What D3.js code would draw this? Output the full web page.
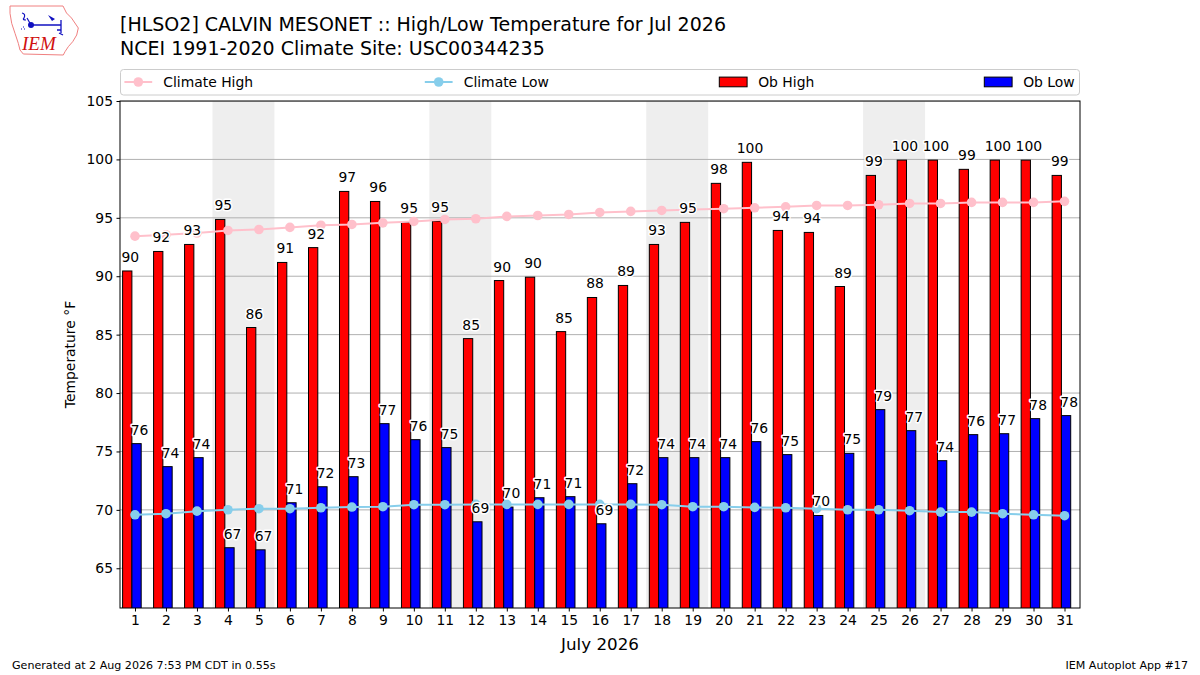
<!DOCTYPE html>
<html><head><meta charset="utf-8">
<script src="https://cdn.jsdelivr.net/npm/d3@7/dist/d3.min.js"></script>
<style>
html,body{margin:0;padding:0;background:#fff;}
svg{display:block;font-family:"DejaVu Sans",sans-serif;}
</style></head>
<body>
<svg id="c" width="1200" height="675"></svg>
<script>
// ---------------- data ----------------
const days = [1,2,3,4,5,6,7,8,9,10,11,12,13,14,15,16,17,18,19,20,21,22,23,24,25,26,27,28,29,30,31];
const obHigh = [90.45,92.12,92.72,94.86,85.61,91.18,92.45,97.26,96.4,94.61,94.72,84.66,
  89.63,89.92,85.26,88.18,89.21,92.72,94.61,97.95,99.75,93.92,93.75,89.12,98.63,99.94,99.94,99.15,99.94,99.94,98.63];
const obLow = [75.67,73.7,74.47,66.76,66.58,70.61,71.98,72.84,77.38,76.01,75.33,68.98,
  70.24,71.04,71.13,68.81,72.24,74.47,74.47,74.47,75.84,74.73,69.52,74.84,78.58,76.78,74.21,76.44,76.52,77.81,78.07];
const climHigh = [93.43,93.55,93.7,93.92,94.0,94.18,94.37,94.43,94.57,94.69,94.86,94.92,
  95.12,95.2,95.29,95.46,95.55,95.63,95.72,95.78,95.86,95.94,96.06,96.06,96.12,96.23,96.23,96.32,96.32,96.32,96.41];
const climLow = [69.58,69.67,69.89,70.01,70.1,70.1,70.18,70.24,70.27,70.44,70.44,70.47,
  70.47,70.47,70.47,70.47,70.47,70.44,70.27,70.27,70.21,70.18,70.1,70.01,70.01,69.93,69.81,69.81,69.67,69.58,69.5];
const weekendStarts = [4, 11, 18, 25];
const yTicks = [65,70,75,80,85,90,95,100,105];
const xTicks = days;
const titleLines = ["[HLSO2] CALVIN MESONET :: High/Low Temperature for Jul 2026",
                    "NCEI 1991-2020 Climate Site: USC00344235"];
const legendLabels = ["Climate High","Climate Low","Ob High","Ob Low"];

// ---------------- layout ----------------
const svg = d3.select("#c");
const L = 120, R = 1080, T = 101, B = 608;
const x = d3.scaleLinear().domain([0.5, 31.5]).range([119.5, 1080]);
const y = d3.scaleLinear().domain([61.6, 105]).range([B, T]);
const C = {high:"#ff0000", low:"#0000ff", ch:"#ffc0cb", cl:"#87ceeb", band:"#eeeeee", grid:"#b0b0b0"};

const clipId = "plotclip";
svg.append("defs").append("clipPath").attr("id", clipId)
  .append("rect").attr("x", L).attr("y", T).attr("width", R-L).attr("height", B-T);

const plot = svg.append("g").attr("clip-path", `url(#${clipId})`);

// weekend bands
plot.selectAll("rect.band").data(weekendStarts).join("rect")
  .attr("x", d => x(d-0.5)).attr("width", d => x(d+1.5)-x(d-0.5))
  .attr("y", T).attr("height", B-T).attr("fill", C.band);

// grid
plot.selectAll("line.grid").data(yTicks).join("line")
  .attr("x1", L).attr("x2", R).attr("y1", d => y(d)).attr("y2", d => y(d))
  .attr("stroke", C.grid).attr("stroke-width", 1);

// bars
plot.selectAll("rect.hi").data(days).join("rect")
  .attr("x", d => x(d-0.4)).attr("width", x(0.3)-x(0))
  .attr("y", (d,i) => y(obHigh[i])).attr("height", (d,i) => B - y(obHigh[i]) + 2)
  .attr("fill", C.high).attr("stroke", "#000").attr("stroke-width", 1);
plot.selectAll("rect.lo").data(days).join("rect")
  .attr("x", d => x(d-0.1)).attr("width", x(0.3)-x(0))
  .attr("y", (d,i) => y(obLow[i])).attr("height", (d,i) => B - y(obLow[i]) + 2)
  .attr("fill", C.low).attr("stroke", "#000").attr("stroke-width", 1);

// climate lines
function climLine(vals, color){
  const line = d3.line().x((d,i)=>x(days[i])).y(d=>y(d));
  plot.append("path").datum(vals).attr("d", line)
    .attr("fill","none").attr("stroke", color).attr("stroke-width", 2);
  plot.selectAll(null).data(vals).join("circle")
    .attr("cx",(d,i)=>x(days[i])).attr("cy", d=>y(d)).attr("r", 4.8).attr("fill", color);
}
climLine(climHigh, C.ch);
climLine(climLow, C.cl);

// value labels
function labels(vals, off){
  svg.append("g").selectAll("text").data(vals).join("text")
    .attr("x",(d,i)=>x(days[i]+off)).attr("y", d=>y(d)-9)
    .attr("text-anchor","middle").attr("font-size","13.9px")
    .attr("fill","#000").attr("stroke","#fff").attr("stroke-width",3)
    .attr("stroke-linejoin","round").attr("paint-order","stroke")
    .text(d=>Math.round(d));
}
labels(obHigh, -0.15);
labels(obLow, 0.15);

// frame
svg.append("rect").attr("x", L).attr("y", T).attr("width", R-L).attr("height", B-T)
  .attr("fill","none").attr("stroke","#000").attr("stroke-width",1);

// axes
const yAxis = svg.append("g").attr("transform", `translate(${L},0)`)
  .call(d3.axisLeft(y).tickValues(yTicks).tickSize(3.5).tickPadding(3.5).tickFormat(d3.format("d")));
const xAxis = svg.append("g").attr("transform", `translate(0,${B})`)
  .call(d3.axisBottom(x).tickValues(xTicks).tickSize(3.5).tickPadding(3.5).tickFormat(d3.format("d")));
[yAxis, xAxis].forEach(g => {
  g.select(".domain").remove();
  g.selectAll("text").attr("font-size","13.9px").attr("font-family","DejaVu Sans").attr("fill","#000");
  g.selectAll("line").attr("stroke","#000");
});

// axis titles
svg.append("text").attr("transform", `translate(75,${(T+B)/2}) rotate(-90)`)
  .attr("text-anchor","middle").attr("font-size","13.9px").text("Temperature °F");
svg.append("text").attr("x", (L+R)/2).attr("y", 649.5).attr("text-anchor","middle")
  .attr("font-size","16.7px").text("July 2026");

// title
svg.selectAll("text.title").data(titleLines).join("text")
  .attr("x", 120).attr("y", (d,i)=>31 + i*23.5).attr("font-size","19px").attr("fill","#000").text(d=>d);

// legend
const lg = svg.append("g");
lg.append("rect").attr("x", 120.5).attr("y", 69.5).attr("width", 959).attr("height", 25.5)
  .attr("rx", 3).attr("fill","#fff").attr("fill-opacity",0.8).attr("stroke","#cccccc");
const lgX = [124.4, 424.8, 719.3, 984.3];
const ly = 82;
[C.ch, C.cl].forEach((c,i) => {
  lg.append("line").attr("x1", lgX[i]).attr("x2", lgX[i]+27.8).attr("y1", ly).attr("y2", ly)
    .attr("stroke", c).attr("stroke-width", 2);
  lg.append("circle").attr("cx", lgX[i]+13.9).attr("cy", ly).attr("r", 4.8).attr("fill", c);
});
[C.high, C.low].forEach((c,i) => {
  lg.append("rect").attr("x", lgX[i+2]).attr("y", ly-4.9).attr("width", 27.8).attr("height", 9.7)
    .attr("fill", c).attr("stroke","#000").attr("stroke-width",1);
});
lg.selectAll("text").data(legendLabels).join("text")
  .attr("x",(d,i)=>lgX[i]+27.8+11.1).attr("y", ly+5).attr("font-size","13.9px").text(d=>d);

// footer
svg.append("text").attr("x", 12).attr("y", 669).attr("font-size","11.1px").text("Generated at 2 Aug 2026 7:53 PM CDT in 0.55s");
svg.append("text").attr("x", 1188).attr("y", 669).attr("text-anchor","end").attr("font-size","11.1px").text("IEM Autoplot App #17");

// logo (IEM)
const logo = svg.append("g");
const iowa = [[10,6],[63,6],[66.5,13],[71.5,18],[78.3,28],[76.7,35],[72.7,41.7],[68.3,46.7],[65,51.7],[63.3,55],[23.3,54],[20,50],[18.3,43.3],[15,33.3],[11.7,23.3],[10,13.3]];
logo.append("path").attr("d", d3.line().curve(d3.curveLinearClosed)(iowa))
  .attr("fill","#fff").attr("stroke","#f08080").attr("stroke-width",1);
logo.append("text").attr("x", 22).attr("y", 50).attr("font-family","Liberation Serif")
  .attr("font-style","italic").attr("font-size","19px").attr("fill","#d01010").text("IEM");
logo.append("line").attr("x1",31).attr("y1",25).attr("x2",61).attr("y2",25).attr("stroke","#1010c0").attr("stroke-width",1.5);
logo.append("circle").attr("cx",31).attr("cy",25).attr("r",3).attr("fill","#1010c0");
logo.append("path").attr("d","M31,25 L27,18 M22,13 Q26,14 24,18 Q22,20 26,20").attr("fill","none").attr("stroke","#1010c0").attr("stroke-width",1.2);
logo.append("path").attr("d","M48,15 L55,19 L52,21 Z").attr("fill","#1010c0");
logo.append("path").attr("d","M61,20 L61,33 M57,30 L61,30 M59,33 L63,35").attr("fill","none").attr("stroke","#1010c0").attr("stroke-width",1.3);
logo.append("path").attr("d","M23,27 L24,27 M21,29 L22,29 M24,29 L25,29").attr("stroke","#1010c0").attr("stroke-width",1.2);
</script>
</body></html>
